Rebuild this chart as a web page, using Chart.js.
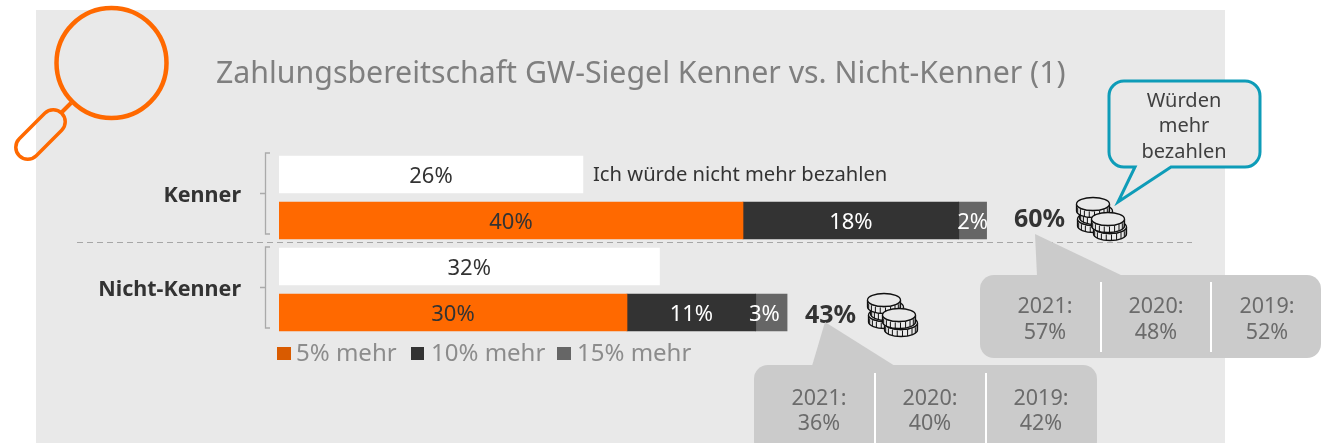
<!DOCTYPE html>
<html>
<head>
<meta charset="utf-8">
<style>
  html, body { margin:0; padding:0; background:#fff; }
  #wrap { width:1321px; height:443px; }
</style>
<script src="https://cdn.jsdelivr.net/npm/chart.js@4/dist/chart.umd.min.js"></script>
</head>
<body>
<div id="wrap"><canvas id="chart" width="1321" height="443"></canvas></div>
<script>
const titleText = "Zahlungsbereitschaft GW-Siegel Kenner vs. Nicht-Kenner (1)";
const rows = ["Kenner, nicht mehr", "Kenner, mehr", "Nicht-Kenner, nicht mehr", "Nicht-Kenner, mehr"];
const seriesNames = ["Ich würde nicht mehr bezahlen", "5% mehr", "10% mehr", "15% mehr"];

const noMore   = [26.2, null, 32.8, null];
const fivePct  = [null, 40, null, 30];
const tenPct   = [null, 18.6, null, 11.1];
const fifteen  = [null, 2.4, null, 2.7];

const noMoreLabels  = ["26%", "", "32%", ""];
const fivePctLabels = ["", "40%", "", "30%"];
const tenPctLabels  = ["", "18%", "", "11%"];
const fifteenLabels = ["", "2%", "", "3%"];

const groupNames = ["Kenner", "Nicht-Kenner"];
const totals = ["60%", "43%"];
const years = ["2021:", "2020:", "2019:"];
const historyKenner = ["57%", "48%", "52%"];
const historyNicht  = ["36%", "40%", "42%"];
const calloutLines = ["Würden", "mehr", "bezahlen"];

const FONT = '"Noto Sans", sans-serif';
const ORANGE = "#ff6900", DARK = "#333333", MID = "#666666";

function roundRect(ctx, x, y, w, h, r){
  ctx.beginPath();
  ctx.roundRect(x, y, w, h, r);
}

// Noto sits about 2px high with a middle baseline, so nudge it here
function text(ctx, str, x, y, size, color, align="center", bold=false){
  ctx.font = `${bold ? "bold " : ""}${size}px ${FONT}`;
  ctx.fillStyle = color;
  ctx.textAlign = align;
  ctx.textBaseline = "middle";
  ctx.fillText(str, x, y + 2);
}

function drawCoin(ctx, cx, cy){
  const rx = 16.5, ry = 6.5, h = 7;
  ctx.fillStyle = "#e9e9e9";
  ctx.strokeStyle = "#111";
  ctx.lineWidth = 1.3;
  // rim
  ctx.beginPath();
  ctx.ellipse(cx, cy, rx, ry, 0, Math.PI, 0, true);
  ctx.lineTo(cx + rx, cy + h);
  ctx.ellipse(cx, cy + h, rx, ry, 0, 0, Math.PI);
  ctx.lineTo(cx - rx, cy);
  ctx.closePath();
  ctx.fill();
  ctx.stroke();
  // ridges on the edge
  ctx.lineWidth = 1;
  for (let a = 0.2; a < 3; a += 0.32) {
    const px = cx + rx * Math.cos(a), py = cy + ry * Math.sin(a);
    ctx.beginPath();
    ctx.moveTo(px, py + 1);
    ctx.lineTo(px, py + h);
    ctx.stroke();
  }
  // top face
  ctx.lineWidth = 1.3;
  ctx.beginPath();
  ctx.ellipse(cx, cy, rx, ry, 0, 0, Math.PI * 2);
  ctx.fill();
  ctx.stroke();
}

function drawCoins(ctx, ox, oy){
  // offsets inside one pile of five coins, back to front
  drawCoin(ctx, ox + 18, oy + 22);
  drawCoin(ctx, ox + 20, oy + 14);
  drawCoin(ctx, ox + 17, oy + 7);
  drawCoin(ctx, ox + 34, oy + 30);
  drawCoin(ctx, ox + 32, oy + 22);
}

function grayBubble(ctx, x, y, w, h, tail, seps, top, bottom){
  ctx.fillStyle = "#cbcbcb";
  roundRect(ctx, x, y, w, h, 14);
  ctx.fill();
  ctx.beginPath();
  ctx.moveTo(tail[0], tail[1]);
  ctx.lineTo(tail[2], y + 1);
  ctx.lineTo(tail[3], y + 1);
  ctx.closePath();
  ctx.fill();
  ctx.strokeStyle = "#ffffff";
  ctx.lineWidth = 2;
  seps.forEach(sx => {
    ctx.beginPath();
    ctx.moveTo(sx, top);
    ctx.lineTo(sx, bottom);
    ctx.stroke();
  });
}

const backdrop = {
  id: "backdrop",
  beforeDatasetsDraw(chart){
    const ctx = chart.ctx;
    ctx.save();
    ctx.fillStyle = "#e9e9e9";
    ctx.fillRect(36, 10, 1189, 433);

    // magnifier
    ctx.strokeStyle = ORANGE;
    ctx.lineWidth = 4.5;
    ctx.beginPath();
    ctx.arc(111.5, 63, 55, 0, Math.PI * 2);
    ctx.stroke();
    ctx.lineWidth = 4;
    ctx.beginPath();
    ctx.moveTo(71, 103);
    ctx.lineTo(62, 112);
    ctx.stroke();
    ctx.lineWidth = 3.5;
    ctx.save();
    ctx.translate(40.5, 134.5);
    ctx.rotate(-Math.PI / 4);
    roundRect(ctx, -30, -12, 60, 24, 12);
    ctx.stroke();
    ctx.restore();

    text(ctx, titleText, 216, 72, 30.3, "#7f7f7f", "left");

    // group brackets
    ctx.strokeStyle = "#aaaaaa";
    ctx.lineWidth = 1.3;
    [[153, 234, 193.5], [247, 328, 287.5]].forEach(b => {
      ctx.beginPath();
      ctx.moveTo(270, b[0]);
      ctx.lineTo(265.5, b[0]);
      ctx.lineTo(265.5, b[1]);
      ctx.lineTo(270, b[1]);
      ctx.moveTo(260, b[2]);
      ctx.lineTo(265.5, b[2]);
      ctx.stroke();
    });
    text(ctx, groupNames[0], 241, 194, 21.5, DARK, "right", true);
    text(ctx, groupNames[1], 241, 288, 21.5, DARK, "right", true);

    // divider
    ctx.strokeStyle = "#a6a6a6";
    ctx.lineWidth = 1;
    ctx.setLineDash([6, 4]);
    ctx.beginPath();
    ctx.moveTo(77, 242.5);
    ctx.lineTo(1192, 242.5);
    ctx.stroke();
    ctx.setLineDash([]);
    ctx.restore();
  },
  afterDatasetsDraw(chart){
    const ctx = chart.ctx;
    ctx.save();

    // labels sitting on the bars
    const allLabels = [noMoreLabels, fivePctLabels, tenPctLabels, fifteenLabels];
    const labelColors = [DARK, DARK, "#ffffff", "#ffffff"];
    chart.data.datasets.forEach((ds, i) => {
      const meta = chart.getDatasetMeta(i);
      meta.data.forEach((bar, j) => {
        if (!allLabels[i][j]) return;
        // the 3% label straddles the dark segment in the original
        const shift = allLabels[i][j] === "3%" ? -7 : 0;
        const cx = (bar.x + bar.base) / 2 + shift;
        text(ctx, allLabels[i][j], cx, bar.y, 22, labelColors[i]);
      });
    });

    text(ctx, seriesNames[0], 593, 173, 20.2, DARK, "left");

    // legend
    const swatches = [[277, 14, "#d95b00"], [411, 13, DARK], [557, 14, MID]];
    const legendX = [296, 431, 577];
    swatches.forEach((s, i) => {
      ctx.fillStyle = s[2];
      ctx.fillRect(s[0], 347, s[1], 13);
      text(ctx, seriesNames[i + 1], legendX[i], 352, 24, "#8c8c8c", "left");
    });

    // totals and coins
    text(ctx, totals[0], 1014, 218, 25, DARK, "left", true);
    text(ctx, totals[1], 805, 314, 25, DARK, "left", true);
    drawCoins(ctx, 1076, 197);
    drawCoins(ctx, 867, 293);

    // history bubbles
    grayBubble(ctx, 980, 275, 341, 83, [1035, 234, 1037, 1123], [1101, 1211], 282, 352);
    [1045, 1156, 1267].forEach((x, i) => {
      text(ctx, years[i], x, 305, 21.5, "#6b6b6b");
      text(ctx, historyKenner[i], x, 331, 21.5, "#6b6b6b");
    });
    grayBubble(ctx, 754, 365, 343, 90, [825, 322, 812, 895], [875, 986], 373, 443);
    [819, 930, 1041].forEach((x, i) => {
      text(ctx, years[i], x, 397, 21.5, "#6b6b6b");
      text(ctx, historyNicht[i], x, 422, 21.5, "#6b6b6b");
    });

    // "Würden mehr bezahlen" speech bubble
    ctx.strokeStyle = "#0e9cb8";
    ctx.fillStyle = "#e9e9e9";
    ctx.lineWidth = 3;
    ctx.lineJoin = "miter";
    ctx.beginPath();
    ctx.moveTo(1124, 81);
    ctx.lineTo(1245, 81);
    ctx.arcTo(1260, 81, 1260, 96, 15);
    ctx.lineTo(1260, 152);
    ctx.arcTo(1260, 167, 1245, 167, 15);
    ctx.lineTo(1171, 167);
    ctx.lineTo(1118, 202);
    ctx.lineTo(1135, 167);
    ctx.lineTo(1124, 167);
    ctx.arcTo(1109, 167, 1109, 152, 15);
    ctx.lineTo(1109, 96);
    ctx.arcTo(1109, 81, 1124, 81, 15);
    ctx.closePath();
    ctx.fill();
    ctx.stroke();
    calloutLines.forEach((l, i) => text(ctx, l, 1184, 99 + i * 25.5, 20, "#404040"));

    ctx.restore();
  }
};

new Chart(document.getElementById("chart").getContext("2d"), {
  type: "bar",
  data: {
    labels: rows,
    datasets: [
      { label: seriesNames[0], data: noMore,  backgroundColor: "#ffffff" },
      { label: seriesNames[1], data: fivePct, backgroundColor: ORANGE },
      { label: seriesNames[2], data: tenPct,  backgroundColor: DARK },
      { label: seriesNames[3], data: fifteen, backgroundColor: MID }
    ]
  },
  options: {
    indexAxis: "y",
    responsive: false,
    animation: false,
    layout: { padding: { left: 279, right: 114, top: 151.5, bottom: 107.5 } },
    plugins: { legend: { display: false }, tooltip: { enabled: false } },
    datasets: { bar: { barThickness: 37 } },
    scales: {
      x: { stacked: true, display: false, min: 0, max: 80 },
      y: { stacked: true, display: false }
    }
  },
  plugins: [backdrop]
});
</script>
</body>
</html>
